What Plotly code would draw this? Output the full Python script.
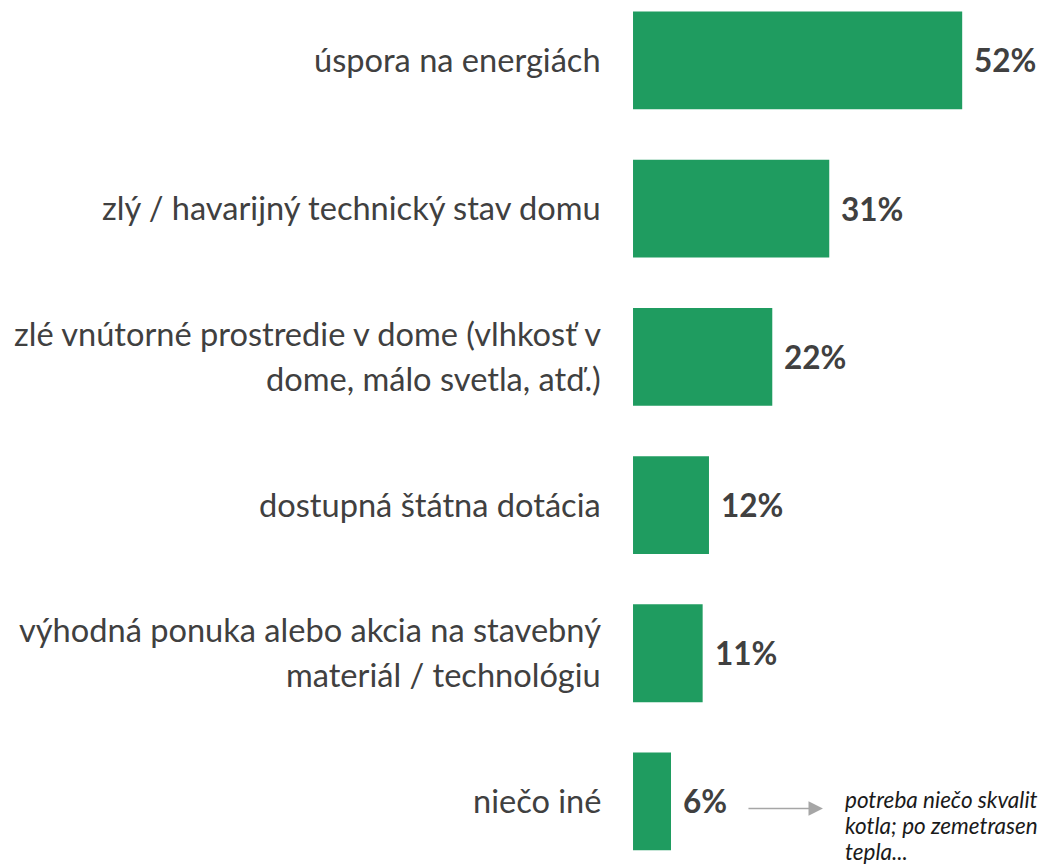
import plotly.graph_objects as go

# Survey: reasons for renovating the house (share of respondents, %)
categories = [
    "úspora na energiách",
    "zlý / havarijný technický stav domu",
    "zlé vnútorné prostredie v dome (vlhkosť v<br>dome, málo svetla, atď.)",
    "dostupná štátna dotácia",
    "výhodná ponuka alebo akcia na stavebný<br>materiál / technológiu",
    "niečo iné",
]
values = [52, 31, 22, 12, 11, 6]
value_labels = ["52%", "31%", "22%", "12%", "11%", "6%"]
other_note = [
    "potreba niečo skvalit",
    "kotla; po zemetrasen",
    "tepla...",
]

BAR_COLOR = "#1f9c60"
TEXT_COLOR = "#404040"
FONT = "Lato"

positions = list(range(len(categories)))

fig = go.Figure(
    go.Bar(
        x=values,
        y=positions,
        orientation="h",
        marker=dict(color=BAR_COLOR, line=dict(width=0)),
        width=0.66,
        hoverinfo="skip",
    )
)

annotations = []
# category labels, one annotation per line so the line spacing can be set
for pos, label in zip(positions, categories):
    lines = label.split("<br>")
    n = len(lines)
    line_gap = 45
    for k, line in enumerate(lines):
        shift = (n - 1) / 2 * line_gap - k * line_gap + 1
        annotations.append(dict(
            x=-4.7, y=pos, xref="x", yref="y", text=line,
            xanchor="right", yanchor="middle", showarrow=False,
            yshift=shift,
            font=dict(family=FONT, size=32.6, color=TEXT_COLOR),
        ))

# value labels right of the bars
for pos, v, lab in zip(positions, values, value_labels):
    annotations.append(dict(
        x=v, y=pos, xref="x", yref="y", text=f"<b>{lab}</b>",
        xanchor="left", yanchor="middle", showarrow=False,
        xshift=10, yshift=0,
        font=dict(family=FONT, size=31.5, color=TEXT_COLOR),
    ))

# pointer from the "other" value to the open-answer note
last = positions[-1]
annotations.append(dict(
    x=30.0, y=last, ax=18.0, ay=last, xref="x", yref="y", axref="x", ayref="y",
    text="", showarrow=True, arrowhead=2, arrowsize=1.8, arrowwidth=1.6,
    arrowcolor="#a6a6a6", yshift=-7,
))
for k, line in enumerate(other_note):
    annotations.append(dict(
        x=33.1, y=last, xref="x", yref="y", text=f"<i>{line}</i>",
        xanchor="left", yanchor="middle", showarrow=False,
        yshift=2 - k * 26,
        font=dict(family=FONT, size=22.5, color="#1a1a1a"),
    ))

fig.update_layout(
    width=1041,
    height=864,
    margin=dict(l=0, r=0, t=0, b=0),
    paper_bgcolor="white",
    plot_bgcolor="white",
    showlegend=False,
    bargap=0.34,
    xaxis=dict(range=[-100, 64.45], visible=False, fixedrange=True),
    yaxis=dict(range=[5.422, -0.408], visible=False, fixedrange=True),
    annotations=annotations,
)

fig.write_html("out.html")
